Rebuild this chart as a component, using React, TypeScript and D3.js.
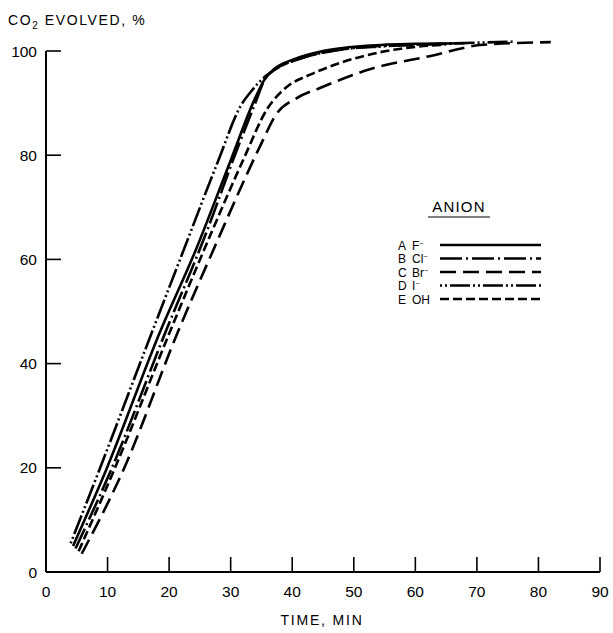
import React from "react";
import * as d3 from "d3";

const xTicks = [0, 10, 20, 30, 40, 50, 60, 70, 80, 90];
const yTicks = [0, 20, 40, 60, 80, 100];

// A  F-  (solid)
const aT = [4.4, 9.7, 18.6, 24.4, 30, 34, 35.5, 37, 40, 45, 52, 60, 68];
const aY = [5, 19.4, 46.3, 62, 79, 91, 94.5, 96.5, 98.3, 100, 101, 101.4, 101.5];
// B  Cl- (dash-dot)
const bT = [4.8, 10.5, 19.5, 26, 31, 34, 35.5, 37, 40, 45, 52, 60, 66];
const bY = [4.5, 19.4, 46.3, 65, 81, 90, 94.5, 96.3, 98, 99.7, 100.8, 101.2, 101.4];
// C  Br- (long dash)
const cT = [5.8, 12.5, 21.5, 28, 32.5, 34.8, 37.5, 40.8, 44.5, 47.2, 52.6, 62.3, 71, 82];
const cY = [3.5, 19.4, 46.3, 64, 76, 81.8, 88, 91, 92.9, 94.2, 96.5, 99, 101.2, 101.7];
// D  I-  (dash-dot-dot)
const dT = [4.0, 8.6, 17.3, 22.3, 28, 31.6, 33.5, 35.5, 38, 42, 47, 55, 65, 76];
const dY = [5.5, 19.4, 46.3, 61.6, 79, 89.4, 92.5, 95, 97, 98.8, 100.1, 100.9, 101.4, 101.8];
// E  OH- (short dash)
const eT = [5.3, 11, 20.2, 27, 32, 36, 39, 43, 47, 54, 60, 65];
const eY = [4, 19.4, 46.3, 65.5, 79, 89, 93, 95.5, 97.4, 99.7, 100.8, 101.2];

const legendLetters = ["A", "B", "C", "D", "E"];
const legendIons = ["F", "Cl", "Br", "I", "OH"];
const legendSup = ["\u2212", "\u2212", "\u2212", "\u2212", ""];

const dashes = ["", "22 4 2 4", "16 7", "2 3 2 3 20 3", "9 4"];

export default function App() {
  const x = d3.scaleLinear().domain([0, 90]).range([46, 600]);
  const y = d3.scaleLinear().domain([0, 100]).range([572, 51]);
  const series = [
    [aT, aY],
    [bT, bY],
    [cT, cY],
    [dT, dY],
    [eT, eY],
  ];
  const line = d3
    .line<[number, number]>()
    .x((d) => x(d[0]))
    .y((d) => y(d[1]))
    .curve(d3.curveMonotoneX);

  const font = "Liberation Sans, Arial, sans-serif";
  const legX0 = 440;
  const legX1 = 541;
  const legRowY = (i: number) => 245 + i * 13.5;

  return (
    <svg width={613} height={633} style={{ position: "absolute", left: 0, top: 0 }} fontFamily={font}>
      <rect width={613} height={633} fill="#fff" />
      {/* axes */}
      <line x1={x(0)} y1={y(0)} x2={x(90)} y2={y(0)} stroke="#000" strokeWidth={2} />
      <line x1={x(0)} y1={y(0)} x2={x(0)} y2={y(100)} stroke="#000" strokeWidth={2} />
      {xTicks.slice(1).map((t) => (
        <line key={"xt" + t} x1={x(t)} x2={x(t)} y1={y(0)} y2={y(0) - 15} stroke="#000" strokeWidth={1.6} />
      ))}
      {yTicks.slice(1).map((t) => (
        <line key={"yt" + t} x1={x(0)} x2={x(0) + 15} y1={y(t)} y2={y(t)} stroke="#000" strokeWidth={1.6} />
      ))}
      {xTicks.map((t) => (
        <text key={"xl" + t} x={x(t)} y={y(0) + 25} fontSize={15.5} textAnchor="middle" fill="#000">
          {t}
        </text>
      ))}
      {yTicks.map((t) => (
        <text key={"yl" + t} x={37} y={y(t) + 5.5} fontSize={15.5} textAnchor="end" fill="#000">
          {t}
        </text>
      ))}
      <text x={322} y={625} fontSize={14} textAnchor="middle" letterSpacing={1.8}>
        TIME, MIN
      </text>
      <text x={8} y={25} fontSize={14} letterSpacing={1.6}>
        CO<tspan fontSize={10} dy={4}>2</tspan>
        <tspan dy={-4}> EVOLVED, %</tspan>
      </text>
      {/* curves */}
      {series.map(([ts, ys], i) => (
        <path
          key={"s" + i}
          d={line(ts.map((t, j) => [t, ys[j]] as [number, number])) || ""}
          fill="none"
          stroke="#000"
          strokeWidth={2.6}
          strokeDasharray={dashes[i] || undefined}
        />
      ))}
      {/* legend */}
      <text x={459} y={212} fontSize={15} textAnchor="middle" letterSpacing={1.2}>
        ANION
      </text>
      <line x1={428} x2={490} y1={217} y2={217} stroke="#000" strokeWidth={1.2} />
      {legendLetters.map((L, i) => (
        <g key={"lg" + i}>
          <text x={398} y={legRowY(i) + 4.5} fontSize={12}>
            {L}
            <tspan x={412}>{legendIons[i]}</tspan>
            <tspan fontSize={7} dy={-4}>{legendSup[i]}</tspan>
          </text>
          <line
            x1={legX0}
            x2={legX1}
            y1={legRowY(i)}
            y2={legRowY(i)}
            stroke="#000"
            strokeWidth={2.6}
            strokeDasharray={dashes[i] || undefined}
          />
        </g>
      ))}
    </svg>
  );
}
